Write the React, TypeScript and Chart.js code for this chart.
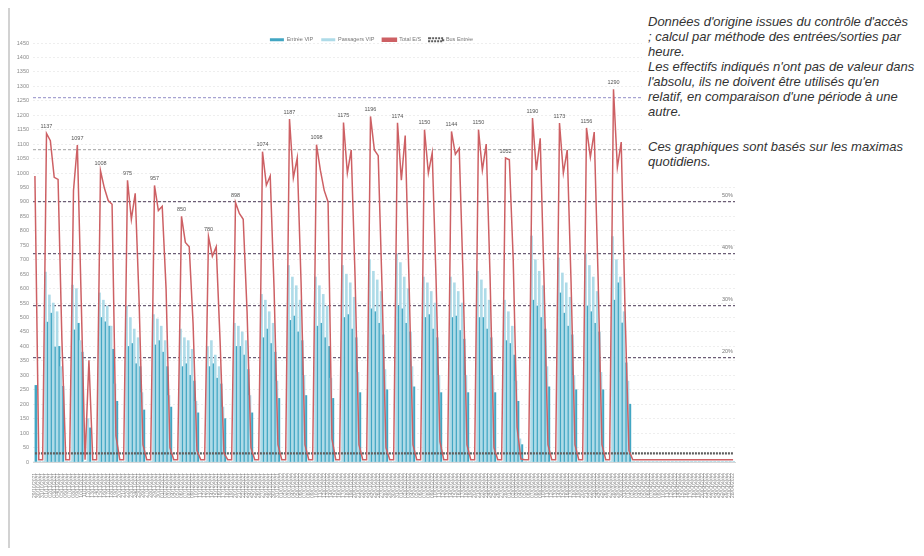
import { useEffect, useRef } from "react";
import { Chart, registerables } from "chart.js";

Chart.register(...registerables);

const FONT = '"Liberation Sans", Arial, sans-serif';

// first category is a Friday
const START_DATE = "2021-10-29";

const SERIES_NAMES = ["Entrée VIP", "Passagers VIP", "Total E/S", "Bus Entrée"];

const TOTAL_ES = [
  990, 8, 8,
  1137, 1112, 985, 978, 420, 8, 8,
  940, 1097, 560, 8, 352, 8, 8,
  1008, 948, 905, 892, 90, 8, 8,
  975, 840, 930, 560, 60, 8, 8,
  957, 870, 885, 600, 50, 8, 8,
  850, 760, 745, 480, 40, 8, 8,
  780, 712, 745, 420, 30, 8, 8,
  898, 860, 840, 520, 50, 8, 8,
  1074, 958, 990, 600, 60, 8, 8,
  1187, 983, 1052, 620, 60, 8, 8,
  1098, 1010, 940, 900, 80, 8, 8,
  1175, 1000, 1080, 640, 60, 8, 8,
  1196, 1080, 1060, 600, 50, 8, 8,
  1174, 975, 1130, 620, 60, 8, 8,
  1150, 1000, 1070, 630, 70, 8, 8,
  1144, 1065, 1085, 640, 60, 8, 8,
  1150, 1010, 1100, 640, 50, 8, 8,
  1052, 1046, 700, 120, 10, 8, 8,
  1190, 1010, 1120, 620, 60, 8, 8,
  1173, 1000, 1080, 620, 60, 8, 8,
  1156, 1055, 1142, 640, 60, 8, 8,
  1290, 1020, 1107, 520, 40, 8, 8,
  8, 8, 8, 8, 8, 8, 8,
  8, 8, 8, 8, 8, 8, 8,
  8, 8, 8, 8, 8, 8, 8,
  8, 8, 8, 8,
];

const ENTREE_VIP = [
  265, 0, 0,
  484, 515, 398, 400, 262, 0, 0,
  457, 480, 380, 0, 118, 0, 0,
  500, 485, 470, 390, 210, 0, 0,
  400, 410, 340, 330, 180, 0, 0,
  405, 420, 380, 330, 190, 0, 0,
  330, 340, 300, 280, 170, 0, 0,
  330, 340, 290, 270, 150, 0, 0,
  400, 400, 370, 320, 170, 0, 0,
  430, 460, 410, 380, 220, 0, 0,
  490, 505, 450, 420, 230, 0, 0,
  470, 480, 430, 400, 220, 0, 0,
  500, 510, 460, 430, 240, 0, 0,
  530, 520, 480, 440, 250, 0, 0,
  540, 530, 480, 450, 260, 0, 0,
  500, 510, 460, 430, 240, 0, 0,
  500, 505, 455, 425, 240, 0, 0,
  500, 500, 460, 430, 240, 0, 0,
  420, 410, 370, 210, 60, 0, 0,
  560, 540, 500, 460, 260, 0, 0,
  585, 515, 470, 440, 250, 0, 0,
  540, 520, 480, 450, 250, 0, 0,
  560, 620, 481, 343, 200, 0, 0,
  0, 0, 0, 0, 0, 0, 0,
  0, 0, 0, 0, 0, 0, 0,
  0, 0, 0, 0, 0, 0, 0,
  0, 0, 0, 0,
];

const PASSAGERS_VIP = [
  0, 0, 0,
  657, 578, 550, 520, 330, 0, 0,
  612, 600, 420, 0, 150, 0, 0,
  585, 560, 540, 470, 270, 0, 0,
  540, 500, 460, 430, 240, 0, 0,
  510, 495, 470, 420, 230, 0, 0,
  460, 430, 420, 390, 210, 0, 0,
  400, 420, 370, 330, 190, 0, 0,
  480, 470, 450, 420, 230, 0, 0,
  580, 560, 520, 480, 280, 0, 0,
  680, 640, 610, 560, 300, 0, 0,
  640, 610, 580, 540, 290, 0, 0,
  680, 650, 620, 570, 310, 0, 0,
  700, 660, 630, 590, 320, 0, 0,
  720, 690, 640, 600, 330, 0, 0,
  640, 620, 590, 550, 300, 0, 0,
  640, 620, 590, 550, 300, 0, 0,
  660, 630, 600, 560, 300, 0, 0,
  560, 520, 470, 280, 80, 0, 0,
  782, 700, 660, 610, 330, 0, 0,
  706, 654, 620, 570, 300, 0, 0,
  720, 680, 640, 590, 310, 0, 0,
  780, 700, 640, 520, 280, 0, 0,
  0, 0, 0, 0, 0, 0, 0,
  0, 0, 0, 0, 0, 0, 0,
  0, 0, 0, 0, 0, 0, 0,
  0, 0, 0, 0,
];

const BUS_ENTREE = [
  30, 30, 30,
  30, 30, 30, 30, 30, 30, 30,
  30, 30, 30, 30, 30, 30, 30,
  30, 30, 30, 30, 30, 30, 30,
  30, 30, 30, 30, 30, 30, 30,
  30, 30, 30, 30, 30, 30, 30,
  30, 30, 30, 30, 30, 30, 30,
  30, 30, 30, 30, 30, 30, 30,
  30, 30, 30, 30, 30, 30, 30,
  30, 30, 30, 30, 30, 30, 30,
  30, 30, 30, 30, 30, 30, 30,
  30, 30, 30, 30, 30, 30, 30,
  30, 30, 30, 30, 30, 30, 30,
  30, 30, 30, 30, 30, 30, 30,
  30, 30, 30, 30, 30, 30, 30,
  30, 30, 30, 30, 30, 30, 30,
  30, 30, 30, 30, 30, 30, 30,
  30, 30, 30, 30, 30, 30, 30,
  30, 30, 30, 30, 30, 30, 30,
  30, 30, 30, 30, 30, 30, 30,
  30, 30, 30, 30, 30, 30, 30,
  30, 30, 30, 30, 30, 30, 30,
  30, 30, 30, 30, 30, 30, 30,
  30, 30, 30, 30, 30, 30, 30,
  30, 30, 30, 30, 30, 30, 30,
  30, 30, 30, 30, 30, 30, 30,
  30, 30, 30, 30,
];

const Y_MAX = 1450;
const Y_STEP = 50;
const CAPACITY = 1800;
const PERCENT_TICKS = [0.2, 0.3, 0.4, 0.5, 0.6, 0.7];

const NOTE_LINES_1 = [
  "Données d'origine issues du contrôle d'accès",
  "; calcul par méthode des entrées/sorties par",
  "heure.",
  "Les effectifs indiqués n'ont pas de valeur dans",
  "l'absolu, ils ne doivent être utilisés qu'en",
  "relatif, en comparaison d'une période à une",
  "autre.",
];
const NOTE_LINES_2 = ["Ces graphiques  sont basés sur les maximas", "quotidiens."];

function pad2(n: number) {
  return n < 10 ? "0" + n : String(n);
}

function buildDateLabels(start: string, count: number): string[] {
  const [y, m, d] = start.split("-").map(Number);
  const out: string[] = [];
  for (let i = 0; i < count; i++) {
    const dt = new Date(Date.UTC(y, m - 1, d + i));
    out.push(`${pad2(dt.getUTCDate())}/${pad2(dt.getUTCMonth() + 1)}/${dt.getUTCFullYear()}`);
  }
  return out;
}

const LEGEND_BOX_HEIGHT = 14;

const legendHeightFix = {
  id: "legendHeightFix",
  beforeLayout(chart: any) {
    const lg = chart.legend;
    if (lg && !lg.__fixed) {
      const orig = lg.fit.bind(lg);
      lg.fit = function () {
        orig();
        this.height = LEGEND_BOX_HEIGHT;
      };
      lg.__fixed = true;
    }
  },
};

const peakLabels = {
  id: "peakLabels",
  afterDatasetsDraw(chart: any) {
    const meta = chart.getDatasetMeta(2);
    const data = chart.data.datasets[2].data as number[];
    const ctx = chart.ctx;
    ctx.save();
    ctx.font = `5.5px ${FONT}`;
    ctx.fillStyle = "#555";
    ctx.textAlign = "center";
    ctx.textBaseline = "bottom";
    for (let s = 3; s < data.length; s += 7) {
      let best = s;
      for (let j = s; j < Math.min(s + 5, data.length); j++) {
        if (data[j] > data[best]) best = j;
      }
      if (data[best] > 100) {
        const pt = meta.data[best];
        ctx.fillText(String(data[best]), pt.x, pt.y - 4);
      }
    }
    ctx.restore();
  },
};

const percentLabels = {
  id: "percentLabels",
  afterDraw(chart: any) {
    const sc = chart.scales.y2;
    const ctx = chart.ctx;
    ctx.save();
    ctx.font = `5.5px ${FONT}`;
    ctx.fillStyle = "#777";
    ctx.textAlign = "right";
    ctx.textBaseline = "bottom";
    for (const v of PERCENT_TICKS) {
      const y = sc.getPixelForValue(v);
      ctx.fillText(Math.round(v * 100) + "%", chart.chartArea.right - 2, y - 4);
    }
    ctx.restore();
  },
};

export default function App() {
  const canvasRef = useRef<HTMLCanvasElement | null>(null);

  useEffect(() => {
    if (!canvasRef.current) return;
    Chart.defaults.font.family = FONT;
    const labels = buildDateLabels(START_DATE, TOTAL_ES.length);
    const chart = new Chart(canvasRef.current, {
      type: "bar",
      data: {
        labels,
        datasets: [
          {
            type: "bar",
            label: SERIES_NAMES[0],
            data: ENTREE_VIP,
            backgroundColor: "#42a6c3",
            borderWidth: 0,
            categoryPercentage: 1,
            barPercentage: 1,
            inflateAmount: 0.35,
            order: 3,
            yAxisID: "y",
          },
          {
            type: "bar",
            label: SERIES_NAMES[1],
            data: PASSAGERS_VIP,
            backgroundColor: "#aedbe8",
            borderWidth: 0,
            categoryPercentage: 1,
            barPercentage: 1,
            inflateAmount: 0.35,
            order: 2,
            yAxisID: "y",
          },
          {
            type: "line",
            label: SERIES_NAMES[2],
            data: TOTAL_ES,
            borderColor: "#cd6064",
            backgroundColor: "#cd6064",
            borderWidth: 1.5,
            pointRadius: 0,
            tension: 0,
            order: 0,
            yAxisID: "y",
          },
          {
            type: "line",
            label: SERIES_NAMES[3],
            data: BUS_ENTREE,
            borderColor: "#5e5e5e",
            backgroundColor: "rgba(0,0,0,0)",
            borderWidth: 2.2,
            borderDash: [2, 1],
            pointRadius: 0,
            order: 1,
            yAxisID: "y",
          },
        ],
      },
      options: {
        responsive: false,
        animation: false,
        layout: { padding: { top: 21, right: 13, bottom: 26, left: 0 } },
        plugins: {
          legend: {
            display: true,
            position: "top",
            labels: {
              boxWidth: 14,
              boxHeight: 3,
              padding: 8,
              color: "#777",
              font: { size: 5.5, family: FONT },
              sort: (a: any, b: any) => a.datasetIndex - b.datasetIndex,
            },
          },
          tooltip: { enabled: false },
        },
        scales: {
          x: {
            type: "category",
            offset: true,
            grid: { display: false },
            border: { display: true, color: "#d6d6d6" },
            ticks: {
              autoSkip: false,
              maxRotation: 90,
              minRotation: 90,
              padding: 3,
              color: "#8a8a8a",
              font: { size: 5, family: FONT },
            },
            afterFit(scale: any) {
              scale.height = 60;
            },
          },
          y: {
            position: "left",
            min: 0,
            max: Y_MAX,
            ticks: {
              stepSize: Y_STEP,
              padding: 4,
              color: "#8a8a8a",
              font: { size: 5.5, family: FONT },
              callback: (v: any) => String(v),
            },
            grid: { color: "#eeeeee", drawTicks: false, lineWidth: 1 },
            border: { display: false, dash: [2, 2] },
            afterFit(scale: any) {
              scale.width = 25;
            },
          },
          y2: {
            position: "right",
            min: 0,
            max: Y_MAX / CAPACITY,
            afterBuildTicks(scale: any) {
              scale.ticks = PERCENT_TICKS.map((v) => ({ value: v }));
            },
            ticks: { display: false },
            grid: {
              drawTicks: false,
              lineWidth: 1.2,
              color: (c: any) =>
                c.tick && c.tick.value > 0.65
                  ? "#a7a4d2"
                  : c.tick && c.tick.value > 0.55
                  ? "#b3b3b3"
                  : "#6c5e76",
            },
            border: { display: false, dash: [3, 2] },
            afterFit(scale: any) {
              scale.width = 0;
            },
          },
        },
      } as any,
      plugins: [legendHeightFix, peakLabels, percentLabels],
    });
    return () => chart.destroy();
  }, []);

  return (
    <div style={{ position: "relative", width: 908, height: 540 }}>
      <div style={{ position: "absolute", left: 0, top: 0, width: 740, height: 540 }}>
        <canvas ref={canvasRef} width={740} height={540} />
      </div>
      <div
        style={{
          position: "absolute",
          left: 0,
          top: -3,
          width: 2,
          height: 550,
          background: "#d2d2d2",
        }}
      />
      <div
        style={{
          position: "absolute",
          left: 634,
          top: -4,
          width: 282,
          height: 182,
          background: "#ffffff",
          boxSizing: "border-box",
          paddingLeft: 6,
          paddingTop: 10,
          fontFamily: FONT,
          fontStyle: "italic",
          fontSize: 13,
          lineHeight: "15px",
          color: "#333333",
          whiteSpace: "nowrap",
        }}
      >
        {NOTE_LINES_1.map((t, i) => (
          <div key={"a" + i}>{t}</div>
        ))}
        <div style={{ height: 20 }} />
        {NOTE_LINES_2.map((t, i) => (
          <div key={"b" + i}>{t}</div>
        ))}
      </div>
    </div>
  );
}
